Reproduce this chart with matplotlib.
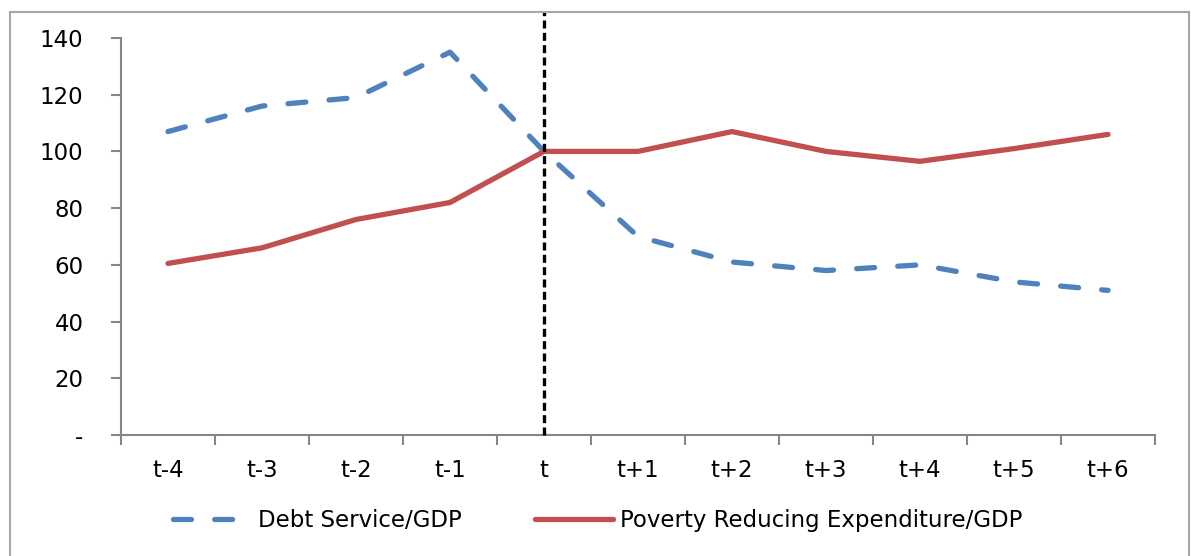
import matplotlib.pyplot as plt
from matplotlib.patches import Rectangle

periods = ['t-4', 't-3', 't-2', 't-1', 't', 't+1', 't+2', 't+3', 't+4', 't+5', 't+6']
debt_service = [107, 116, 119, 135, 100, 70, 61, 58, 60, 54, 51]
poverty_exp = [60.5, 66, 76, 82, 100, 100, 107, 100, 96.5, 101, 106]
yticks = [0, 20, 40, 60, 80, 100, 120, 140]
ytick_labels = ['-', '20', '40', '60', '80', '100', '120', '140']

plt.rcParams['font.family'] = ['DejaVu Sans']

fig = plt.figure(figsize=(11.91, 5.56), dpi=100)
ax = fig.add_axes([0.1016, 0.2176, 0.8682, 0.7141])

x = list(range(len(periods)))
ax.plot(x, debt_service, color='#4F81BD', lw=3.8, dashes=(3.4, 4.4),
        dash_capstyle='round', label='Debt Service/GDP')
ax.plot(x, poverty_exp, color='#C0504D', lw=3.8, solid_capstyle='round',
        label='Poverty Reducing Expenditure/GDP')

# vertical marker at t, reaching above the plot area
ax.plot([4, 4], [0, 149.5], color='black', lw=2.4, dashes=(2.4, 1.3), clip_on=False, zorder=5)

ax.set_xlim(-0.5, len(periods) - 0.5)
ax.set_ylim(0, 140)
ax.set_yticks(yticks)
ax.set_yticklabels(ytick_labels)
ax.set_xticks(x)
ax.set_xticklabels(periods)
ax.set_xticks([i - 0.5 for i in range(len(periods) + 1)], minor=True)

for s in ['top', 'right']:
    ax.spines[s].set_visible(False)
for s in ['left', 'bottom']:
    ax.spines[s].set_color('#868686')
    ax.spines[s].set_linewidth(1.5)

ax.tick_params(axis='y', length=7, width=1.5, color='#868686', pad=20, labelsize=16.5)
ax.tick_params(axis='x', which='major', length=0, pad=17, labelsize=16.5)
ax.tick_params(axis='x', which='minor', length=7, width=1.5, color='#868686')

ax.legend(loc='center', bbox_to_anchor=(0.502, 0.063), bbox_transform=fig.transFigure,
          ncol=2, frameon=False, fontsize=16.5, handlelength=3.4, handletextpad=0.3,
          columnspacing=3.2)

# outer chart border
fig.add_artist(Rectangle((10 / 1191, -0.05), 1179 / 1191, 1.05 - 12 / 556,
                         transform=fig.transFigure, fill=False,
                         edgecolor='#A6A6A6', lw=1.5))

fig.savefig('out.png', dpi=100)
